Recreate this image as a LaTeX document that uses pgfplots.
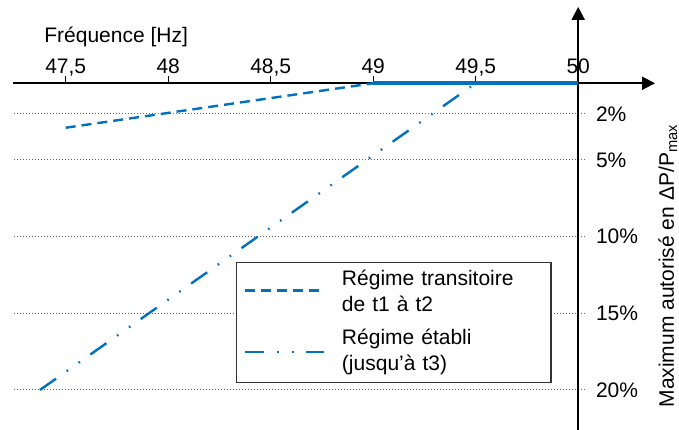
\documentclass[border=0pt]{standalone}
\usepackage{fontspec}
\setmainfont{Liberation Sans}
\usepackage{pgfplots}
\pgfplotsset{compat=1.18}
\usetikzlibrary{arrows.meta}
\definecolor{cblue}{RGB}{0,112,192}

\begin{document}
\begin{tikzpicture}[font=\fontsize{10.5bp}{12.5bp}\selectfont]
\begin{axis}[
  x=102.5bp, y=7.667bp, y dir=reverse,
  xmin=47.2478, xmax=50.0332, ymin=0, ymax=22.61,
  clip=false,
  axis line style={draw=none},
  xtick={47.5,48,48.5,49,49.5,50},
  xticklabels={47{,}5,48,48{,}5,49,49{,}5,50},
  xtick pos=upper, xticklabel pos=upper, xtick align=outside,
  major tick length=3.5bp,
  x tick style={black, line width=0.6bp},
  xticklabel style={anchor=base, yshift=1.5bp},
  ytick={2,5,10,15,20},
  yticklabels={2\%,5\%,10\%,15\%,20\%},
  ytick pos=right, yticklabel pos=right,
  y tick style={draw=none},
  yticklabel style={anchor=west, xshift=2bp},
  ymajorgrids,
  grid style={black!60, line width=0.5bp, dash pattern=on 0.5bp off 1bp},
  legend cell align=left,
  legend image code/.code={\draw[#1] (0bp,0bp) -- (39.5bp,0bp);},
  legend style={at={(axis cs:48.3307,11.66)}, anchor=north west,
    draw=black!80, line width=0.6bp, inner xsep=3.5bp, inner ysep=1.5bp,
    column sep=6.5bp, row sep=5bp,
    nodes={inner sep=2bp, text depth=, text width=99bp, align=left,
      font=\fontsize{10.5bp}{13bp}\selectfont}},
]
% axes
\draw[line width=1bp, -{Triangle[length=6.5bp,width=6.5bp]}]
  (axis cs:47.2429,0) -- (axis cs:50.3747,0);
\draw[line width=1bp, -{Triangle[length=6.5bp,width=6.5bp]}]
  (axis cs:50,22.61) -- (axis cs:50,-4.98);

\addplot[cblue, line width=1.2bp, dash pattern=on 5bp off 3bp]
  coordinates {(47.5,2.9) (49,0)};
\addlegendentry{Régime transitoire\\de t1 à t2}
\addplot[cblue, line width=1.2bp,
  dash pattern=on 9.8bp off 6.5bp on 0.8bp off 6.5bp on 0.8bp off 6.4bp]
  coordinates {(47.3746,20) (49.5,0)};
\addlegendentry{Régime établi\\(jusqu’à t3)}
\addplot[cblue, line width=2bp, forget plot]
  coordinates {(49,0) (50,0)};

\node[anchor=base west, inner sep=0] at (axis cs:47.394,-2.63) {Fréquence [Hz]};
\node[rotate=90, inner sep=0] at (axis cs:50.437,11.9)
  {Maximum autorisé en ΔP/P\textsubscript{max}};

\coordinate (bbA) at (axis cs:47.1795,-5.43);
\coordinate (bbB) at (axis cs:50.4917,22.61);
\end{axis}
\pgfresetboundingbox
\useasboundingbox (bbA) rectangle (bbB);
\end{tikzpicture}
\end{document}
